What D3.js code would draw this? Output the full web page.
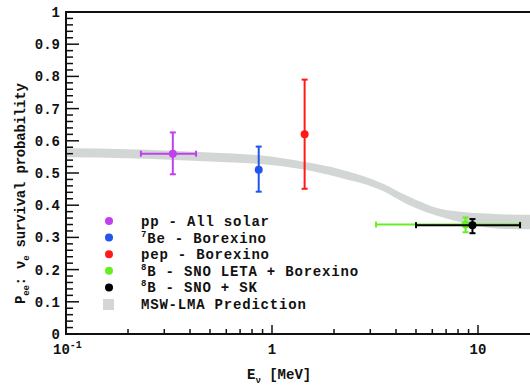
<!DOCTYPE html>
<html>
<head>
<meta charset="utf-8">
<script src="https://cdn.jsdelivr.net/npm/d3@7"></script>
<style>
  body { margin: 0; background: #fff; }
  text { font-family: "Liberation Mono", "Courier New", monospace; font-weight: bold; fill: #111; }
</style>
</head>
<body>
<svg id="chart"></svg>
<script>
const width = 530;
const height = 385;

// MSW-LMA prediction band
const bandE  = [0.1, 0.2, 0.3, 0.5, 0.87, 1.45, 2.14, 3.46, 4.5, 7.1, 12.8, 18];
const bandLo = [0.549, 0.546, 0.542, 0.536, 0.528, 0.510, 0.485, 0.444, 0.404, 0.358, 0.327, 0.325];
const bandHi = [0.577, 0.574, 0.570, 0.564, 0.555, 0.534, 0.512, 0.467, 0.430, 0.384, 0.372, 0.370];

// measurements
const names    = ["pp", "7Be", "pep", "8B-leta", "8B-sk"];
const energy   = [0.33, 0.862, 1.44, 8.7, 9.4];
const energyLo = [0.231, null, null, 3.2, 5.0];
const energyHi = [0.428, null, null, 16, 16];
const prob     = [0.56, 0.51, 0.62, 0.34, 0.338];
const probLo   = [0.496, 0.442, 0.451, 0.316, 0.313];
const probHi   = [0.626, 0.582, 0.79, 0.362, 0.357];
const colors   = ["#c040f0", "#2255ee", "#ff1a1a", "#66ee22", "#000000"];

const legendLabels = [
  [["", "pp - All solar"]],
  [["7", "Be - Borexino"]],
  [["", "pep - Borexino"]],
  [["8", "B - SNO LETA + Borexino"]],
  [["8", "B - SNO + SK"]],
  [["", "MSW-LMA Prediction"]]
];

const yTicks = [0, 0.1, 0.2, 0.3, 0.4, 0.5, 0.6, 0.7, 0.8, 0.9, 1];

const svg = d3.select("#chart")
    .attr("width", width)
    .attr("height", height);

const x = d3.scaleLog().domain([0.1, 10]).range([66, 478]);
const y = d3.scaleLinear().domain([0, 1]).range([334, 12]);
const xMax = x.invert(width + 5);

svg.append("clipPath").attr("id", "plot")
  .append("rect").attr("x", 66).attr("y", 0).attr("width", width - 66).attr("height", 334);

const plot = svg.append("g").attr("clip-path", "url(#plot)");

// band
const band = bandE.map((e, i) => ({e, lo: bandLo[i], hi: bandHi[i]}));
plot.append("path")
    .datum(band)
    .attr("fill", "#d2d7d5")
    .attr("d", d3.area()
        .x(d => x(d.e))
        .y0(d => y(d.lo))
        .y1(d => y(d.hi))
        .curve(d3.curveMonotoneX));

// error bars
const pts = names.map((n, i) => ({
  n, e: energy[i], elo: energyLo[i], ehi: energyHi[i],
  p: prob[i], plo: probLo[i], phi: probHi[i], c: colors[i]
}));

const cap = 3;
pts.forEach(d => {
  const g = plot.append("g").attr("stroke", d.c).attr("stroke-width", 2).attr("fill", d.c);
  if (d.elo != null) {
    g.append("line").attr("x1", x(d.elo)).attr("x2", x(d.ehi)).attr("y1", y(d.p)).attr("y2", y(d.p));
    [d.elo, d.ehi].forEach(v => g.append("line")
        .attr("x1", x(v)).attr("x2", x(v))
        .attr("y1", y(d.p) - cap).attr("y2", y(d.p) + cap));
  }
  g.append("line").attr("x1", x(d.e)).attr("x2", x(d.e)).attr("y1", y(d.plo)).attr("y2", y(d.phi));
  [d.plo, d.phi].forEach(v => g.append("line")
      .attr("x1", x(d.e) - cap).attr("x2", x(d.e) + cap)
      .attr("y1", y(v)).attr("y2", y(v)));
  g.append("circle").attr("cx", x(d.e)).attr("cy", y(d.p)).attr("r", 4).attr("stroke", "none");
});

// axes frame
const axis = svg.append("g").attr("stroke", "#111").attr("fill", "none");
axis.append("path")
    .attr("stroke-width", 2)
    .attr("d", `M${width},${y(1)}H${x(0.1)}V${y(0)}H${width}`);

// y ticks (inside)
d3.range(0, 51).forEach(i => {
  const v = i / 50;
  const major = i % 5 === 0;
  axis.append("line")
      .attr("stroke-width", 1.5)
      .attr("x1", x(0.1)).attr("x2", x(0.1) + (major ? 13 : 7))
      .attr("y1", y(v)).attr("y2", y(v));
});

svg.append("g").selectAll("text")
  .data(yTicks)
  .join("text")
    .attr("x", 60)
    .attr("y", d => y(d) + 5)
    .attr("text-anchor", "end")
    .attr("font-size", 14)
    .text(d => d === 0 || d === 1 ? d : d3.format(".1f")(d));

// x ticks (inside)
const xTickVals = [];
[0.1, 1, 10].forEach(dec => d3.range(1, 10).forEach(k => {
  const v = dec * k;
  if (v <= xMax) xTickVals.push({v, major: k === 1});
}));
xTickVals.forEach(t => axis.append("line")
    .attr("stroke-width", 1.5)
    .attr("x1", x(t.v)).attr("x2", x(t.v))
    .attr("y1", y(0)).attr("y2", y(0) - (t.major ? 9 : 5)));

const xl = svg.append("g").attr("font-size", 14);
const t01 = xl.append("text").attr("x", 53).attr("y", 354);
t01.append("tspan").text("10");
t01.append("tspan").attr("dy", -6).attr("font-size", 10).text("-1");
xl.append("text").attr("x", x(1)).attr("y", 354).attr("text-anchor", "middle").text("1");
xl.append("text").attr("x", x(10)).attr("y", 354).attr("text-anchor", "middle").text("10");

// x label
const xt = svg.append("text").attr("x", 247).attr("y", 379).attr("font-size", 14);
xt.append("tspan").text("E");
xt.append("tspan").attr("dy", 4).attr("font-size", 9).text("\u03bd");
xt.append("tspan").attr("dy", -4).text(" [MeV]");

// y label
const yt = svg.append("text")
    .attr("transform", "translate(25,304) rotate(-90)")
    .attr("font-size", 14)
    .attr("letter-spacing", -0.2);
yt.append("tspan").text("P");
yt.append("tspan").attr("dy", 4).attr("font-size", 9).text("ee");
yt.append("tspan").attr("dy", -4).text(":  \u03bd");
yt.append("tspan").attr("dy", 4).attr("font-size", 9).text("e");
yt.append("tspan").attr("dy", -4).text(" survival probability");

// legend
const legend = svg.append("g");
const rowY = i => 221 + i * 16.6;
legendLabels.forEach((lab, i) => {
  if (i < 5) {
    legend.append("circle").attr("cx", 109).attr("cy", rowY(i)).attr("r", 4).attr("fill", colors[i]);
  } else {
    legend.append("rect").attr("x", 103).attr("y", rowY(i) - 5).attr("width", 11).attr("height", 11).attr("fill", "#d2d7d5");
  }
  const t = legend.append("text")
      .attr("x", 141).attr("y", rowY(i) + 5)
      .attr("font-size", 14)
      .attr("letter-spacing", 0.8);
  lab.forEach(([sup, rest]) => {
    if (sup) {
      t.append("tspan").attr("dy", -6).attr("font-size", 9).text(sup);
      t.append("tspan").attr("dy", 6).text(rest);
    } else {
      t.append("tspan").text(rest);
    }
  });
});
</script>
</body>
</html>
